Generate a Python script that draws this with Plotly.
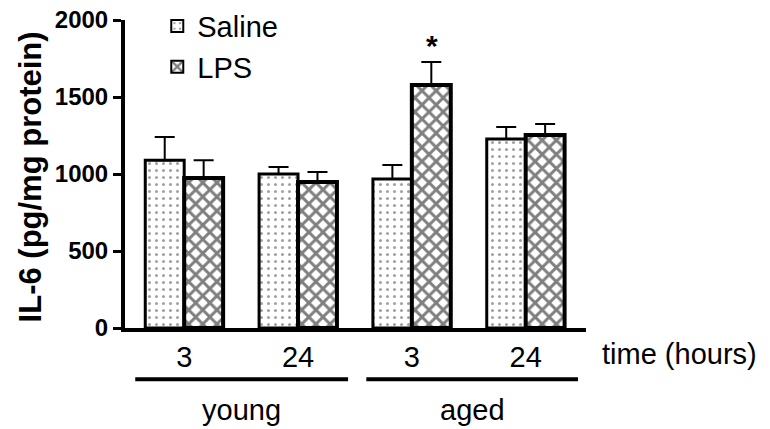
import plotly.graph_objects as go

groups = ["young", "young", "aged", "aged"]
time_labels = ["3", "24", "3", "24"]
saline = [1090, 1000, 968, 1227]
saline_err = [150, 45, 90, 78]
lps = [974, 948, 1578, 1253]
lps_err = [115, 65, 150, 72]
xpos = [0, 1, 2, 3]

FONT = "Liberation Sans, Arial, sans-serif"

fig = go.Figure()
fig.add_trace(go.Bar(
    name="Saline", x=xpos, y=saline,
    marker=dict(color="white", line=dict(color="black", width=3),
                pattern=dict(shape=".", fgcolor="#444444", bgcolor="white", size=7, solidity=0.15)),
    error_y=dict(type="data", array=saline_err, arrayminus=[0]*4, symmetric=False,
                 color="black", thickness=2, width=10),
))
fig.add_trace(go.Bar(
    name="LPS", x=xpos, y=lps,
    marker=dict(color="white", line=dict(color="black", width=4),
                pattern=dict(shape="x", fgcolor="black", bgcolor="white", size=10, solidity=0.5)),
    error_y=dict(type="data", array=lps_err, arrayminus=[0]*4, symmetric=False,
                 color="black", thickness=2, width=10),
))

fig.update_layout(
    width=770, height=429,
    margin=dict(l=125, r=184, t=20, b=101, autoexpand=False),
    paper_bgcolor="white", plot_bgcolor="white",
    barmode="group", bargap=0.316, bargroupgap=0,
    font=dict(family=FONT, color="black"),
    showlegend=True,
    legend=dict(x=0.07, y=1.063, xanchor="left", yanchor="top",
                font=dict(size=29, family=FONT), bgcolor="rgba(0,0,0,0)",
                itemsizing="constant", tracegroupgap=0),
)
fig.update_xaxes(
    range=[-0.52, 3.53], tickvals=xpos, ticktext=time_labels,
    showline=True, linecolor="black", linewidth=4, ticks="", showgrid=False,
    zeroline=False, tickfont=dict(size=29, family=FONT),
)
fig.update_yaxes(
    range=[0, 2000], tickvals=[0, 500, 1000, 1500, 2000],
    showline=True, linecolor="black", linewidth=4, ticks="outside", ticklen=8,
    tickwidth=3, tickcolor="black", showgrid=False, zeroline=False,
    tickfont=dict(size=24, family=FONT, weight="bold"),
)

# y title
fig.add_annotation(text="<b>IL-6 (pg/mg protein)</b>", xref="paper", yref="paper",
                   x=-0.206, y=0.489, xanchor="center", yanchor="middle", textangle=-90,
                   showarrow=False, font=dict(size=31, family=FONT))
# x axis title
fig.add_annotation(text="time (hours)", xref="paper", yref="paper", x=1.03, y=-0.085,
                   xanchor="left", yanchor="middle", showarrow=False,
                   font=dict(size=29, family=FONT))
# significance star
fig.add_annotation(text="<b>*</b>", x=2.175, y=lps[2] + lps_err[2] - 12, xref="x", yref="y",
                   yanchor="bottom", showarrow=False, font=dict(size=30, family=FONT))

# group brackets
bracket_groups = ["young", "aged"]
bracket_ranges = [(-0.43, 1.44), (1.6, 3.46)]
for name, (a, b) in zip(bracket_groups, bracket_ranges):
    fig.add_shape(type="line", x0=a, x1=b, xref="x", yref="paper", y0=-0.166, y1=-0.166,
                  line=dict(color="black", width=4))
    fig.add_annotation(text=name, x=(a + b) / 2, xref="x", yref="paper", y=-0.265,
                       yanchor="middle", showarrow=False, font=dict(size=29, family=FONT))

fig.write_html("out.html", config={"displayModeBar": False},
               post_script="document.body.style.margin='0';")
